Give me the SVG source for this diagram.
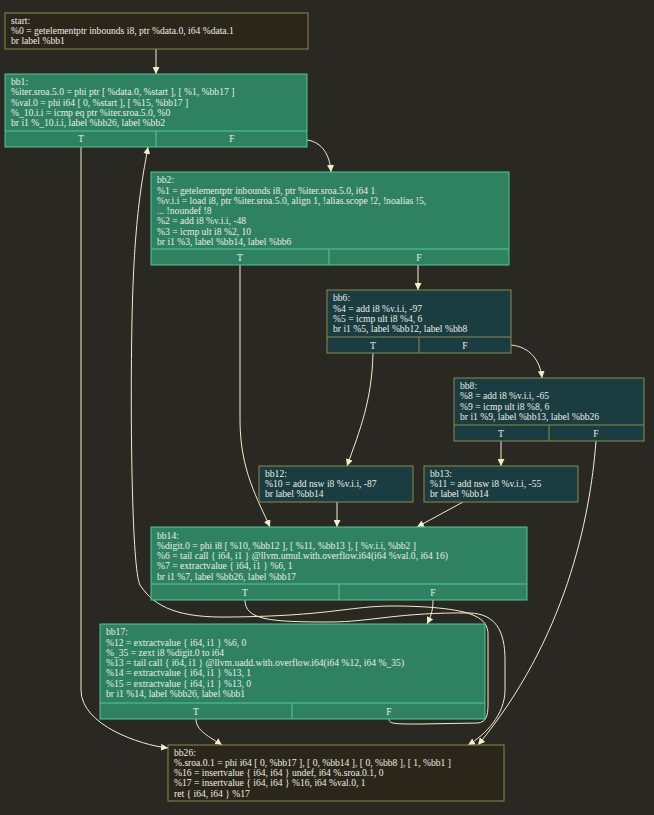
<svg xmlns="http://www.w3.org/2000/svg" width="654" height="815" viewBox="0 0 654 815">
<defs>
<marker id="ah" viewBox="0 0 10 10" refX="10" refY="5" markerWidth="7" markerHeight="7" markerUnits="userSpaceOnUse" orient="auto">
<path d="M0,0 L10,5 L0,10 z" fill="#f2eec8"/>
</marker>
<style>
text{font-family:"Liberation Serif","Times New Roman",serif;font-size:9.6px;fill:#ecece4}
.g{fill:#2e8262;stroke:#52c892;stroke-width:1}
.gl{stroke:#52c892;stroke-width:1;fill:none}
.t{fill:#1a3d41;stroke:#8c8c46;stroke-width:1}
.tl{stroke:#8c8c46;stroke-width:1;fill:none}
.d{fill:#2a2619;stroke:#8c8844;stroke-width:1}
.c{text-anchor:middle}
.e{fill:none;stroke:#f2eec8;stroke-width:1;marker-end:url(#ah)}
</style>
</defs>
<rect width="654" height="815" fill="#2a2823"/>

<g id="edges">
<path class="e" d="M156,49 L156,74"/>
<path class="e" d="M81,147 L81,690 C81,725 140,745 168,748"/>
<path class="e" d="M307,140 C322,142 330,155 331,172"/>
<path class="e" d="M240,265 L240,420 C240,470 258,500 270,527"/>
<path class="e" d="M418,265 L418,290"/>
<path class="e" d="M373,353 C372,400 360,430 347,466"/>
<path class="e" d="M511,345 C530,347 540,360 542,378"/>
<path class="e" d="M501,441 L501,466"/>
<path class="e" d="M596,441 C590,520 565,640 478,745"/>
<path class="e" d="M337,502 L337,527"/>
<path class="e" d="M463,502 L417,527"/>
<path class="e" d="M433,600 C433,612 430,618 427,624"/>
<path class="e" d="M245,600 C245,620 270,622 330,622 C370,622 400,612 470,613 C495,614 505,630 505,660 L505,690 C505,715 485,735 468,745"/>
<path class="e" d="M389,719 C389,724 395,724 420,724 L478,723 C486,722 488,716 488,705 L488,634 C488,626 484,620 475,616 C460,608 420,606 393,606 C350,606 330,616 230,617 C180,618 155,608 140,585 C132,570 130,420 132,320 C134,220 142,180 148,147"/>
<path class="e" d="M196,719 C196,731 210,737 222,745"/>
</g>

<g id="start">
<rect class="d" x="5" y="13" width="303" height="36"/>
<text x="11" y="23.5">start:</text>
<text x="11" y="33.8">%0 = getelementptr inbounds i8, ptr %data.0, i64 %data.1</text>
<text x="11" y="44.1">br label %bb1</text>
</g>

<g id="bb1">
<rect class="g" x="5" y="74" width="302" height="73"/>
<path class="gl" d="M5,131 H307 M156,131 V147"/>
<text x="11" y="85">bb1:</text>
<text x="11" y="95.3">%iter.sroa.5.0 = phi ptr [ %data.0, %start ], [ %1, %bb17 ]</text>
<text x="11" y="105.6">%val.0 = phi i64 [ 0, %start ], [ %15, %bb17 ]</text>
<text x="11" y="115.9">%_10.i.i = icmp eq ptr %iter.sroa.5.0, %0</text>
<text x="11" y="126.2">br i1 %_10.i.i, label %bb26, label %bb2</text>
<text class="c" x="81" y="142">T</text>
<text class="c" x="232" y="142">F</text>
</g>

<g id="bb2">
<rect class="g" x="151" y="172" width="358" height="93"/>
<path class="gl" d="M151,249 H509 M329,249 V265"/>
<text x="157" y="183.2">bb2:</text>
<text x="157" y="193.5">%1 = getelementptr inbounds i8, ptr %iter.sroa.5.0, i64 1</text>
<text x="157" y="203.8">%v.i.i = load i8, ptr %iter.sroa.5.0, align 1, !alias.scope !2, !noalias !5,</text>
<text x="157" y="214.1">... !noundef !8</text>
<text x="157" y="224.4">%2 = add i8 %v.i.i, -48</text>
<text x="157" y="234.7">%3 = icmp ult i8 %2, 10</text>
<text x="157" y="245">br i1 %3, label %bb14, label %bb6</text>
<text class="c" x="240" y="260.5">T</text>
<text class="c" x="419" y="260.5">F</text>
</g>

<g id="bb6">
<rect class="t" x="327" y="290" width="184" height="63"/>
<path class="tl" d="M327,337 H511 M419,337 V353"/>
<text x="333" y="301.2">bb6:</text>
<text x="333" y="311.5">%4 = add i8 %v.i.i, -97</text>
<text x="333" y="321.8">%5 = icmp ult i8 %4, 6</text>
<text x="333" y="332.1">br i1 %5, label %bb12, label %bb8</text>
<text class="c" x="373" y="348.5">T</text>
<text class="c" x="465" y="348.5">F</text>
</g>

<g id="bb8">
<rect class="t" x="454" y="378" width="190" height="63"/>
<path class="tl" d="M454,425 H644 M549,425 V441"/>
<text x="460" y="389">bb8:</text>
<text x="460" y="399.3">%8 = add i8 %v.i.i, -65</text>
<text x="460" y="409.6">%9 = icmp ult i8 %8, 6</text>
<text x="460" y="419.9">br i1 %9, label %bb13, label %bb26</text>
<text class="c" x="501" y="436.5">T</text>
<text class="c" x="596" y="436.5">F</text>
</g>

<g id="bb12">
<rect class="t" x="259" y="466" width="154" height="36"/>
<text x="265" y="476.8">bb12:</text>
<text x="265" y="487.1">%10 = add nsw i8 %v.i.i, -87</text>
<text x="265" y="497.4">br label %bb14</text>
</g>

<g id="bb13">
<rect class="t" x="424" y="466" width="154" height="36"/>
<text x="430" y="476.8">bb13:</text>
<text x="430" y="487.1">%11 = add nsw i8 %v.i.i, -55</text>
<text x="430" y="497.4">br label %bb14</text>
</g>

<g id="bb14">
<rect class="g" x="151" y="527" width="376" height="73"/>
<path class="gl" d="M151,584 H527 M339,584 V600"/>
<text x="157" y="538.5">bb14:</text>
<text x="157" y="548.8">%digit.0 = phi i8 [ %10, %bb12 ], [ %11, %bb13 ], [ %v.i.i, %bb2 ]</text>
<text x="157" y="559.1">%6 = tail call { i64, i1 } @llvm.umul.with.overflow.i64(i64 %val.0, i64 16)</text>
<text x="157" y="569.4">%7 = extractvalue { i64, i1 } %6, 1</text>
<text x="157" y="579.7">br i1 %7, label %bb26, label %bb17</text>
<text class="c" x="245" y="595.5">T</text>
<text class="c" x="433" y="595.5">F</text>
</g>

<g id="bb17">
<rect class="g" x="100" y="624" width="385" height="95"/>
<path class="gl" d="M100,703 H485 M292,703 V719"/>
<text x="106" y="635.2">bb17:</text>
<text x="106" y="645.5">%12 = extractvalue { i64, i1 } %6, 0</text>
<text x="106" y="655.8">%_35 = zext i8 %digit.0 to i64</text>
<text x="106" y="666.1">%13 = tail call { i64, i1 } @llvm.uadd.with.overflow.i64(i64 %12, i64 %_35)</text>
<text x="106" y="676.4">%14 = extractvalue { i64, i1 } %13, 1</text>
<text x="106" y="686.7">%15 = extractvalue { i64, i1 } %13, 0</text>
<text x="106" y="697">br i1 %14, label %bb26, label %bb1</text>
<text class="c" x="196" y="714.5">T</text>
<text class="c" x="389" y="714.5">F</text>
</g>

<g id="bb26">
<rect class="d" x="168" y="745" width="336" height="56"/>
<text x="174" y="755.5">bb26:</text>
<text x="174" y="765.8">%.sroa.0.1 = phi i64 [ 0, %bb17 ], [ 0, %bb14 ], [ 0, %bb8 ], [ 1, %bb1 ]</text>
<text x="174" y="776.1">%16 = insertvalue { i64, i64 } undef, i64 %.sroa.0.1, 0</text>
<text x="174" y="786.4">%17 = insertvalue { i64, i64 } %16, i64 %val.0, 1</text>
<text x="174" y="796.7">ret { i64, i64 } %17</text>
</g>
</svg>
